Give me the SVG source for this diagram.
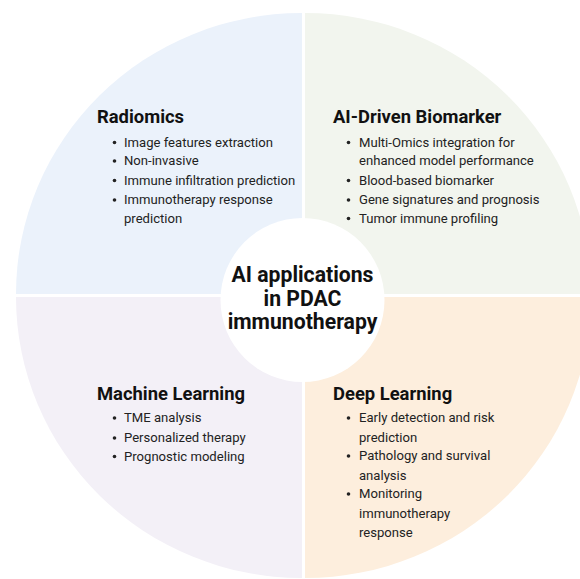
<svg xmlns="http://www.w3.org/2000/svg" width="580" height="579" viewBox="0 0 580 579">
<style>
.title{font-family:Roboto,"Liberation Sans",sans-serif;font-weight:700;font-size:18.4px;fill:#111}
.item{font-family:Roboto,"Liberation Sans",sans-serif;font-size:13.1px;fill:#222}
.center{font-family:Roboto,"Liberation Sans",sans-serif;font-weight:700;font-size:21.2px;fill:#111;text-anchor:middle}
</style>
<rect width="580" height="579" fill="#ffffff"/>
<g id="quadrants">
<path id="q-tl" d="M302,294 L16,294 A286,281 0 0 1 302,13 Z" fill="#ebf2fb"/>
<path id="q-tr" d="M305,294 L305,13 A286,281 0 0 1 591,294 Z" fill="#f2f5ee"/>
<path id="q-bl" d="M302,297 L302,578 A286,281 0 0 1 16,297 Z" fill="#f3f0f7"/>
<path id="q-br" d="M305,297 L591,297 A286,281 0 0 1 305,578 Z" fill="#fdeedd"/>
</g>
<g id="radiomics">
<text class="title" x="97" y="123">Radiomics</text>
<g class="item">
<text x="124" y="146.5">Image features extraction</text>
<text x="124" y="165">Non-invasive</text>
<text x="124" y="184.5">Immune infiltration prediction</text>
<text x="124" y="204">Immunotherapy response</text>
<text x="124" y="222.5">prediction</text>
</g>
<g fill="#222"><circle cx="114.5" cy="142.5" r="1.8"/><circle cx="114.5" cy="161" r="1.8"/><circle cx="114.5" cy="180.5" r="1.8"/><circle cx="114.5" cy="200" r="1.8"/></g>
</g>
<g id="biomarker">
<text class="title" x="333" y="123">AI-Driven Biomarker</text>
<g class="item">
<text x="359" y="146.5">Multi-Omics integration for</text>
<text x="359" y="165">enhanced model performance</text>
<text x="359" y="184.5">Blood-based biomarker</text>
<text x="359" y="204">Gene signatures and prognosis</text>
<text x="359" y="222.5">Tumor immune profiling</text>
</g>
<g fill="#222"><circle cx="348.5" cy="142.5" r="1.8"/><circle cx="348.5" cy="180.5" r="1.8"/><circle cx="348.5" cy="200" r="1.8"/><circle cx="348.5" cy="218.5" r="1.8"/></g>
</g>
<g id="machine-learning">
<text class="title" x="97" y="400">Machine Learning</text>
<g class="item">
<text x="124" y="422">TME analysis</text>
<text x="124" y="442">Personalized therapy</text>
<text x="124" y="460.5">Prognostic modeling</text>
</g>
<g fill="#222"><circle cx="114.5" cy="418" r="1.8"/><circle cx="114.5" cy="438" r="1.8"/><circle cx="114.5" cy="456.5" r="1.8"/></g>
</g>
<g id="deep-learning">
<text class="title" x="333" y="400">Deep Learning</text>
<g class="item">
<text x="359" y="422">Early detection and risk</text>
<text x="359" y="441.5">prediction</text>
<text x="359" y="460">Pathology and survival</text>
<text x="359" y="480">analysis</text>
<text x="359" y="498">Monitoring</text>
<text x="359" y="518">immunotherapy</text>
<text x="359" y="536.5">response</text>
</g>
<g fill="#222"><circle cx="348.5" cy="418" r="1.8"/><circle cx="348.5" cy="456" r="1.8"/><circle cx="348.5" cy="494" r="1.8"/></g>
</g>
<g id="center">
<circle cx="302.5" cy="300" r="82" fill="#ffffff"/>
<text class="center" x="302.5" y="281.5">AI applications</text>
<text class="center" x="302.5" y="306">in PDAC</text>
<text class="center" x="302.5" y="329">immunotherapy</text>
</g>
</svg>
